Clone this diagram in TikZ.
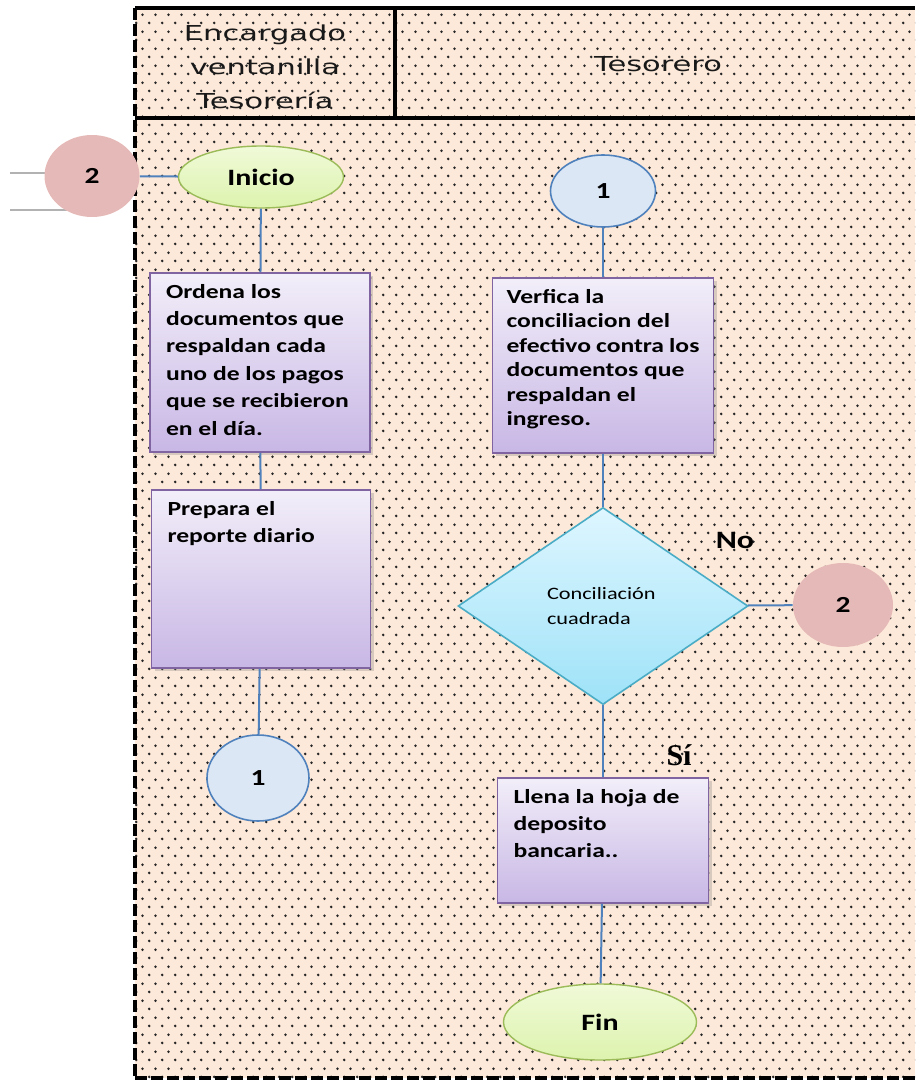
\documentclass[tikz,border=0pt]{standalone}
\usepackage{fontspec}
\setmainfont{Carlito}[FakeStretch=1.28]
\newfontfamily\headfont{DejaVu Sans}[FakeStretch=1.48]
\newfontfamily\sifont{Liberation Serif}
\usetikzlibrary{shapes.geometric,patterns.meta,shadows}

\definecolor{lanebg}{HTML}{FDE9D9}
\definecolor{boxtop}{HTML}{F2EEF9}
\definecolor{boxbot}{HTML}{C8B7E5}
\definecolor{boxline}{HTML}{8064A2}
\definecolor{dectop}{HTML}{DEF6FF}
\definecolor{decbot}{HTML}{9EE2F8}
\definecolor{decline}{HTML}{4BACC6}
\definecolor{termtop}{HTML}{F0FAD8}
\definecolor{termbot}{HTML}{DDF3AE}
\definecolor{termline}{HTML}{9BBB59}
\definecolor{linkfill}{HTML}{DBE7F4}
\definecolor{linkline}{HTML}{4F81BD}
\definecolor{jumpfill}{HTML}{E5B9B7}
\definecolor{flowline}{HTML}{4F81BD}

\tikzdeclarepattern{
  name=lanedots,
  type=uncolored,
  bounding box={(0pt,0pt) and (6.67pt,8.33pt)},
  tile size={(6.67pt,8.33pt)},
  code={
    \fill (1.67pt,2.08pt) circle (0.75pt);
    \fill (5pt,6.25pt) circle (0.75pt);
  }
}

\tikzset{
  flow/.style={draw=flowline, line width=1pt},
  taskbox/.style={draw=boxline, line width=0.8pt, top color=boxtop, bottom color=boxbot,
    inner xsep=8pt, inner ysep=5.5pt, font=\bfseries\fontsize{10}{13.7}\selectfont,
    drop shadow={shadow xshift=1.5pt, shadow yshift=-1.5pt, opacity=0.3}},
  terminal/.style={ellipse, draw=termline, line width=0.7pt, top color=termtop, bottom color=termbot,
    inner sep=0pt, font=\bfseries\fontsize{11.7}{13}\selectfont},
  linkcircle/.style={ellipse, draw=linkline, line width=0.8pt, fill=linkfill,
    inner sep=0pt, font=\bfseries\fontsize{11.5}{13}\selectfont},
  jumpcircle/.style={ellipse, fill=jumpfill, inner sep=0pt, font=\bfseries\fontsize{11.5}{13}\selectfont},
  headtext/.style={align=center, text=black!90, font=\headfont\fontsize{10.3}{17}\selectfont},
}

\begin{document}
\begin{tikzpicture}[x=0.5pt,y=-0.5pt]
    \useasboundingbox (0,0) rectangle (915,1080);

    % the lanes
    \fill[lanebg] (135,8) rectangle (915,1078);
    \fill[pattern=lanedots, pattern color=black!85] (135,8) rectangle (915,1078);
    \draw[line width=2pt] (135,8) -- (915,8);
    \draw[line width=2pt] (135,118) -- (915,118);
    \draw[line width=2pt] (395,8) -- (395,118);
    \draw[line width=2pt, dash pattern=on 6pt off 2pt] (135,8) -- (135,1078);
    \draw[line width=2pt, dash pattern=on 6pt off 2pt] (135,1078) -- (915,1078);

    % lines outside the lanes
    \draw[black!30, line width=0.6pt] (10,173) -- (92,173);
    \draw[black!30, line width=0.6pt] (10,210) -- (92,210);

    % the headers
    \node[headtext] (lane1) at (265,67) {Encargado\\ventanilla\\Tesorería};
    \node[headtext] (lane2) at (658,64) {Tesorero};

    % left lane
    \node[jumpcircle, minimum width=47.5pt, minimum height=41pt] (c2a) at (92,176) {2};
    \node[terminal, minimum width=82.5pt, minimum height=31pt] (inicio) at (261,177) {Inicio};
    \node[taskbox] (box1) at (260,362.5)
      {\parbox[c][78.5pt][t]{94pt}{\raggedright Ordena los\\documentos que\\respaldan cada\\uno de los pagos\\que se recibieron\\en el día.}};
    \node[taskbox] (box2) at (261,579)
      {\parbox[c][78pt][t]{93.5pt}{\raggedright Prepara el\\reporte diario}};
    \node[linkcircle, minimum width=51pt, minimum height=43pt] (c1a) at (258,778) {1};

    % right lane
    \node[linkcircle, minimum width=52.5pt, minimum height=36pt] (c1b) at (603,191) {1};
    \node[taskbox, inner xsep=7pt, font=\bfseries\fontsize{10}{12.25}\selectfont] (box3) at (603,365.5)
      {\parbox[c][76.5pt][t]{96.5pt}{\raggedright Verfica la\\conciliacion del\\efectivo contra los\\documentos que\\respaldan el\\ingreso.}};
    \node[diamond, draw=decline, line width=0.8pt, top color=dectop, bottom color=decbot,
      minimum width=145pt, minimum height=98.5pt, inner sep=0pt,
      font=\fontsize{8.7}{12.5}\selectfont] (dec) at (603,606)
      {\raisebox{7pt}{\parbox{56pt}{\raggedright Conciliación\\cuadrada}}};
    \node[jumpcircle, minimum width=50pt, minimum height=42pt] (c2b) at (843,605) {2};
    \node[taskbox] (box4) at (603,840.5)
      {\parbox[c][51.5pt][t]{89.5pt}{\raggedright Llena la hoja de\\deposito\\bancaria..}};
    \node[terminal, minimum width=96.5pt, minimum height=38pt] (fin) at (600,1022) {Fin};

    % the labels
    \node[font=\bfseries\fontsize{12.5}{14}\selectfont] (no) at (735,540) {No};
    \node[font=\sifont\bfseries\fontsize{15}{16}\selectfont] (si) at (679,755) {Sí};

    % draw the connectors
    \draw[flow] (c2a) -- (inicio);
    \draw[flow] (inicio) -- (box1);
    \draw[flow] (box1) -- (box2);
    \draw[flow] (box2) -- (c1a);
    \draw[flow] (c1b) -- (box3);
    \draw[flow] (box3) -- (dec);
    \draw[flow] (dec) -- (c2b);
    \draw[flow] (dec) -- (box4);
    \draw[flow] (box4) -- (fin);

\end{tikzpicture}
\end{document}
